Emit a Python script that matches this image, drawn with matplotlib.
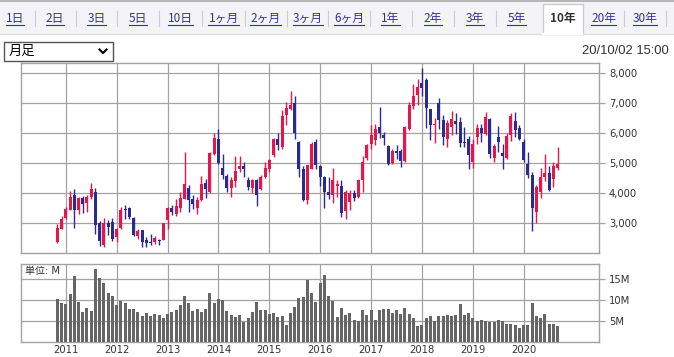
import matplotlib
matplotlib.use('Agg')
import matplotlib.pyplot as plt
from matplotlib.patches import Rectangle
from matplotlib.lines import Line2D

W, H = 674, 357

# ---------------- data (monthly candles, Nov 2010 .. Sep 2020) ----------------
opens = [2356, 2800, 3167, 3433, 3922, 3433, 3833, 3656, 3856, 4022,
         3000, 2267, 3000, 3022, 2522, 2833, 3467, 3500, 3167, 2556,
         2744, 2433, 2356, 2356, 2411, 2433, 3100, 3500, 3300, 3500,
         3800, 4156, 3800, 3500, 3744, 4322, 4022, 5278, 5778, 4822,
         4556, 4156, 4378, 4778, 4889, 4411, 4167, 4411, 4133, 4522,
         4778, 5267, 5778, 5522, 6578, 6778, 6989, 5689, 4778, 3767,
         4800, 5689, 4889, 4522, 4022, 3933, 4222, 4222, 3389, 3689,
         3989, 3856, 4411, 5156, 5633, 5767, 6189, 5911, 5556, 5000,
         5378, 5378, 5044, 6133, 6889, 7244, 7656, 7767, 6778, 6244,
         7000, 6411, 5800, 6189, 6378, 6356, 5689, 5778, 5022, 5856,
         6167, 5967, 6467, 5167, 5856, 5322, 5167, 5933, 6378, 6156,
         5689, 4944, 4578, 3356, 4022, 4522, 4656, 4444, 4822]
highs = [2944, 3211, 3522, 4044, 4122, 3856, 3889, 3911, 4311, 4156,
         3067, 3156, 3100, 3156, 2833, 3522, 3578, 3522, 3189, 2800,
         2767, 2522, 2611, 2556, 2467, 3000, 3522, 3600, 3800, 4022,
         5356, 4267, 3911, 3856, 4556, 4467, 5356, 6000, 6133, 5300,
         4611, 4522, 5222, 5211, 5022, 4522, 4467, 4467, 4578, 5022,
         5133, 5822, 6000, 6744, 7022, 7389, 7222, 5722, 4889, 4933,
         5689, 5778, 4911, 4544, 4522, 4822, 4411, 4411, 4100, 4078,
         4078, 4467, 5211, 5633, 6267, 6300, 6856, 6022, 5578, 5444,
         5600, 5444, 6211, 7022, 7633, 7778, 8156, 7833, 6800, 6489,
         7167, 6600, 6411, 6711, 6667, 6522, 6189, 5889, 5800, 6300,
         6300, 6689, 6489, 5633, 6211, 5633, 6000, 6667, 6689, 6244,
         5778, 5356, 4689, 4244, 4822, 5300, 4878, 5022, 5522]
lows = [2322, 2778, 3133, 3411, 2833, 3300, 3333, 3356, 3800, 2633,
        2211, 2189, 2578, 2389, 2356, 2800, 3133, 3133, 2556, 2467,
        2189, 2189, 2244, 2300, 2267, 2411, 2800, 3244, 3222, 3356,
        3778, 3356, 3467, 3300, 3711, 3822, 4000, 5244, 4967, 4444,
        4022, 3856, 4189, 4689, 4522, 4078, 4000, 3556, 4078, 4489,
        4689, 5189, 5411, 5444, 6244, 6744, 5778, 4522, 3711, 3633,
        4778, 4800, 4222, 3500, 3800, 3667, 3856, 3189, 3133, 3411,
        3711, 3822, 4022, 5100, 5467, 5578, 5822, 5578, 4911, 4967,
        5133, 4856, 5022, 6078, 6800, 6933, 7211, 6167, 5767, 5656,
        6133, 5578, 5522, 5911, 5967, 5522, 5522, 4778, 4833, 5633,
        5689, 5933, 5156, 5022, 5356, 4800, 5111, 5722, 5856, 5744,
        5022, 4489, 2722, 3000, 3822, 4378, 4056, 4189, 4744]
closes = [2833, 3111, 3467, 3856, 3433, 3822, 3633, 3856, 4133, 2933,
          2389, 3000, 2856, 2467, 2800, 3433, 3433, 3189, 2578, 2733,
          2356, 2322, 2322, 2500, 2378, 2989, 3500, 3356, 3544, 3833,
          4300, 3767, 3633, 3767, 4300, 4133, 5333, 5822, 5000, 4600,
          4156, 4411, 4711, 4889, 4800, 4189, 4411, 3911, 4522, 4822,
          5078, 5778, 5578, 6556, 6822, 6933, 6000, 4800, 3744, 4911,
          5633, 4933, 4522, 4022, 3933, 4433, 4300, 3333, 4022, 4000,
          3822, 4433, 5022, 5578, 5911, 6111, 6000, 5822, 4967, 5378,
          5322, 5044, 6189, 6933, 7211, 7522, 7500, 6833, 6267, 6300,
          6433, 5856, 6333, 6467, 6300, 5667, 5667, 5267, 5633, 6167,
          6000, 6522, 5300, 5556, 5689, 5211, 5889, 6556, 6078, 5800,
          5078, 4578, 3489, 4189, 4522, 4656, 4078, 4889, 4944]
volumes = [10.2, 9.2, 9.0, 11.4, 15.6, 9.5, 7.1, 8.1, 7.3, 17.3,
           15.2, 14.0, 11.6, 10.9, 8.8, 9.7, 9.2, 7.8, 7.8, 7.1,
           6.2, 6.9, 6.2, 6.6, 6.4, 5.7, 6.6, 7.1, 7.6, 8.8,
           10.9, 9.2, 7.3, 7.8, 7.1, 7.8, 11.6, 9.2, 10.2, 10.0,
           7.3, 6.4, 5.9, 6.4, 4.7, 5.7, 7.1, 9.5, 7.6, 7.6,
           6.6, 6.9, 5.9, 6.2, 4.0, 6.9, 8.3, 10.4, 10.7, 14.7,
           11.6, 9.5, 14.0, 15.9, 10.9, 9.7, 5.9, 8.1, 6.4, 6.9,
           5.2, 5.0, 7.6, 6.4, 7.6, 5.2, 7.6, 7.8, 7.8, 6.9,
           7.6, 6.6, 8.1, 6.6, 5.7, 3.8, 4.0, 5.7, 6.2, 5.0,
           6.2, 6.2, 6.4, 6.2, 6.4, 9.0, 6.4, 6.9, 5.7, 5.0,
           5.2, 5.0, 4.7, 4.7, 5.2, 5.0, 4.3, 4.3, 4.0, 3.3,
           4.0, 4.0, 9.2, 6.2, 5.7, 6.6, 4.3, 4.3, 3.8]
first_month = 11          # first candle: November 2010
years = ['2011', '2012', '2013', '2014', '2015', '2016', '2017', '2018', '2019', '2020']
price_ticks = [3000, 4000, 5000, 6000, 7000, 8000]
volume_ticks = [5, 10, 15]
tabs = ['1日', '2日', '3日', '5日', '10日', '1ヶ月', '2ヶ月', '3ヶ月', '6ヶ月',
        '1年', '2年', '3年', '5年', '10年', '20年', '30年']
selected_tab = '10年'
period_label = '月足'
timestamp = '20/10/02 15:00'
unit_label = '単位: M'

# ---------------- styling ----------------
UP = '#e6164a'
DOWN = '#2b2b8e'
GRID = '#a3a3a3'
VOLC = '#666666'
TXT = '#333333'
LINK = '#333399'

plt.rcParams['font.family'] = ['DejaVu Sans', 'Noto Sans CJK JP']

fig = plt.figure(figsize=(W / 100, H / 100), dpi=100)
fig.patch.set_facecolor('white')


def fx(x):
    return x / W


def fy(y):
    return 1 - y / H


# ---------------- tab bar ----------------
BAR_BOTTOM = 33.5
fig.add_artist(Rectangle((0, fy(BAR_BOTTOM)), 1, fy(0) - fy(BAR_BOTTOM), transform=fig.transFigure,
                         facecolor='#f4f4f8', edgecolor='none', zorder=0))
fig.add_artist(Line2D([0, 1], [fy(0.6), fy(0.6)], transform=fig.transFigure,
                      color='#aaaaaa', lw=1.2))
fig.add_artist(Line2D([0, 1], [fy(BAR_BOTTOM), fy(BAR_BOTTOM)], transform=fig.transFigure,
                      color='#dddddd', lw=1))
tab_x = [15, 55, 96.5, 138, 180.5, 223.5, 265.5, 307.5, 349, 390.5, 433, 475,
         516.5, 562.5, 603.5, 645]
sel_idx = tabs.index(selected_tab)
tab_l, tab_r = 542.5, 582.5
fig.add_artist(Rectangle((fx(tab_l), fy(BAR_BOTTOM + 0.5)), fx(tab_r) - fx(tab_l),
                         fy(4.5) - fy(BAR_BOTTOM + 0.5),
                         transform=fig.transFigure, facecolor='white',
                         edgecolor='#cccccc', lw=1, zorder=1))
fig.add_artist(Line2D([fx(tab_l + 0.6), fx(tab_r - 0.6)], [fy(BAR_BOTTOM + 0.3)] * 2,
                      transform=fig.transFigure, color='white', lw=1.6, zorder=2))
tab_texts = []
for i, (lab, x) in enumerate(zip(tabs, tab_x)):
    if i == sel_idx:
        t = fig.text(fx(x), fy(18.5), lab, ha='center', va='center', fontsize=8.5,
                     fontweight='bold', color=TXT, family=['Noto Sans CJK JP'], zorder=3)
    else:
        t = fig.text(fx(x), fy(18.5), lab, ha='center', va='center', fontsize=8.5,
                     color=LINK, family=['Noto Sans CJK JP'], zorder=3)
    tab_texts.append(t)
sep_x = [(tab_x[i] + tab_x[i + 1]) / 2 for i in range(len(tab_x) - 1)] + [665.5]
for k, xm in enumerate(sep_x):
    if k == sel_idx or k + 1 == sel_idx:
        continue
    fig.add_artist(Line2D([fx(xm), fx(xm)], [fy(11), fy(26)], transform=fig.transFigure,
                          color='#cccccc', lw=0.8))

# ---------------- dropdown and timestamp ----------------
fig.add_artist(Rectangle((fx(3.5), fy(60.5)), fx(113) - fx(3.5), fy(42.5) - fy(60.5),
                         transform=fig.transFigure, facecolor='white', edgecolor='#555555',
                         lw=1, zorder=2))
fig.text(fx(9), fy(51.5), period_label, ha='left', va='center', fontsize=9.5, color='black',
         family=['Noto Sans CJK JP'], zorder=3)
fig.add_artist(Line2D([fx(99.5), fx(103), fx(106.5)], [fy(49.5), fy(53), fy(49.5)],
                      transform=fig.transFigure, color='black', lw=1.5, zorder=3))
fig.text(fx(669), fy(50.5), timestamp, ha='right', va='center', fontsize=9.4, color=TXT,
         family=['Liberation Sans'])

# ---------------- axes ----------------
L, R = 20.7, 599.3
ax1 = fig.add_axes([fx(L), fy(252.7), fx(R) - fx(L), fy(62.7) - fy(252.7)])
ax2 = fig.add_axes([fx(L), fy(342), fx(R) - fx(L), fy(263.7) - fy(342)])

n = len(opens)
idx = list(range(n))
x0_px, step_px = 57.3, 4.24
xlim = ((L - x0_px) / step_px, (R - x0_px) / step_px)
jan_idx = [(13 - first_month) % 12 + 12 * k for k in range(len(years))]

for ax in (ax1, ax2):
    ax.set_xlim(*xlim)
    for s in ax.spines.values():
        s.set_color(GRID)
        s.set_linewidth(1)
    ax.set_axisbelow(True)
    ax.grid(True, color=GRID, lw=0.9)
    ax.yaxis.tick_right()
    ax.tick_params(axis='y', which='both', direction='out', length=4, width=0.9,
                   color=GRID, labelcolor=TXT, labelsize=7.2, pad=3)
    ax.set_xticks(jan_idx)

# candles
for i in idx:
    o, h, l, c = opens[i], highs[i], lows[i], closes[i]
    col = UP if c >= o else DOWN
    ax1.vlines(i, l, h, color=col, lw=1.0, zorder=3)
    bot = min(o, c)
    hgt = max(abs(c - o), 30)
    ax1.bar(i, hgt, bottom=bot, width=0.7, color=col, edgecolor='none', zorder=4)
ax1.set_ylim(2000, 8333)
ax1.set_yticks(price_ticks)
ax1.set_yticklabels([f'{v:,}' for v in price_ticks])
ax1.tick_params(axis='x', length=0, labelbottom=False)

# volume
ax2.bar(idx, volumes, width=0.7, color=VOLC, edgecolor='none', zorder=3)
ax2.set_ylim(0, 18.5)
ax2.set_yticks(volume_ticks)
ax2.set_yticklabels([f'{v}M' for v in volume_ticks])
ax2.set_xticklabels(years)
ax2.tick_params(axis='x', length=0, labelsize=7.2, labelcolor=TXT, pad=2.5)
fig.text(fx(25), fy(271), unit_label, ha='left', va='center', fontsize=7.2, color=TXT,
         family=['DejaVu Sans', 'Noto Sans CJK JP'])

# underlines for link tabs
fig.canvas.draw()
for i, t in enumerate(tab_texts):
    if i == sel_idx:
        continue
    bb = t.get_window_extent()
    fig.add_artist(Line2D([bb.x0 / W, bb.x1 / W], [fy(25), fy(25)],
                          transform=fig.transFigure, color=LINK, lw=0.8, zorder=3))

fig.savefig('out.png', dpi=100, facecolor='white')
